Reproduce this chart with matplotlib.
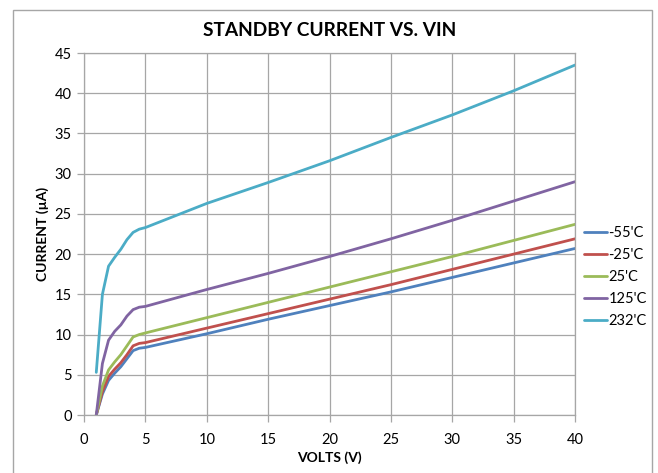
import numpy as np
import matplotlib
matplotlib.use("Agg")
import matplotlib.pyplot as plt
from matplotlib.patches import Rectangle

plt.rcParams['font.family'] = ['Lato', 'DejaVu Sans']

# tensao de entrada (V)
volts = [1, 1.5, 2, 2.5, 3, 3.5, 4, 4.5, 5, 10, 15, 20, 25, 30, 35, 40]

# corrente (uA) por temperatura
i_m55 = [0, 2.6, 4.3, 5.2, 6.0, 7.0, 8.0, 8.3, 8.4, 10.1, 11.9, 13.6, 15.3, 17.1, 18.9, 20.7]
i_m25 = [0, 2.9, 4.8, 5.7, 6.5, 7.5, 8.6, 8.9, 9.0, 10.8, 12.6, 14.4, 16.2, 18.1, 20.0, 21.9]
i_25 = [0, 3.6, 5.6, 6.6, 7.5, 8.6, 9.7, 10.0, 10.2, 12.1, 14.0, 15.9, 17.8, 19.7, 21.7, 23.7]
i_125 = [0, 6.4, 9.3, 10.4, 11.2, 12.3, 13.1, 13.4, 13.5, 15.6, 17.6, 19.7, 21.9, 24.2, 26.6, 29.0]
i_232 = [5.3, 15.0, 18.5, 19.6, 20.6, 21.8, 22.7, 23.1, 23.3, 26.3, 28.9, 31.6, 34.5, 37.3, 40.3, 43.5]

labels = ["-55'C", "-25'C", "25'C", "125'C", "232'C"]
cores = ['#4F81BD', '#C0504D', '#9BBB59', '#8064A2', '#4BACC6']
series = [i_m55, i_m25, i_25, i_125, i_232]

fig = plt.figure(figsize=(6.58, 4.73), dpi=100)
ax = fig.add_axes([84 / 658, 1 - 415 / 473, 491 / 658, 362 / 473])

for y, c, lab in zip(series, cores, labels):
    ax.plot(volts, y, color=c, lw=2.0, label=lab, solid_capstyle='round')

ax.set_xlim(0, 40)
ax.set_ylim(0, 45)
ax.set_xticks(np.arange(0, 41, 5))
ax.set_yticks(np.arange(0, 46, 5))
ax.grid(True, color='#A6A6A6', lw=0.9)
ax.set_axisbelow(True)
for s in ax.spines.values():
    s.set_color('#A6A6A6')
    s.set_linewidth(0.9)
ax.tick_params(axis='both', labelsize=10.5, color='#A6A6A6', length=5, width=0.9)
ax.tick_params(axis='x', pad=8)
ax.tick_params(axis='y', pad=4)

ax.set_title('STANDBY CURRENT VS. VIN', fontsize=13.8, fontweight='bold', pad=12)
ax.set_xlabel('VOLTS (V)', fontsize=10, fontweight='bold', labelpad=3)
ax.set_ylabel('CURRENT (\u00b5A)', fontsize=10, fontweight='bold', labelpad=4)

leg = ax.legend(loc='center left', bbox_to_anchor=(1.0, 0.38), frameon=False,
                fontsize=10.5, handlelength=1.6, handletextpad=0.1,
                labelspacing=0.55, borderaxespad=0.2)

# moldura do grafico
fig.patches.append(Rectangle((13 / 658, -0.01), 639 / 658, 1 - 10 / 473 + 0.01,
                             transform=fig.transFigure, fill=False,
                             edgecolor='#A6A6A6', lw=1.0))

fig.savefig('out.png', dpi=100)
